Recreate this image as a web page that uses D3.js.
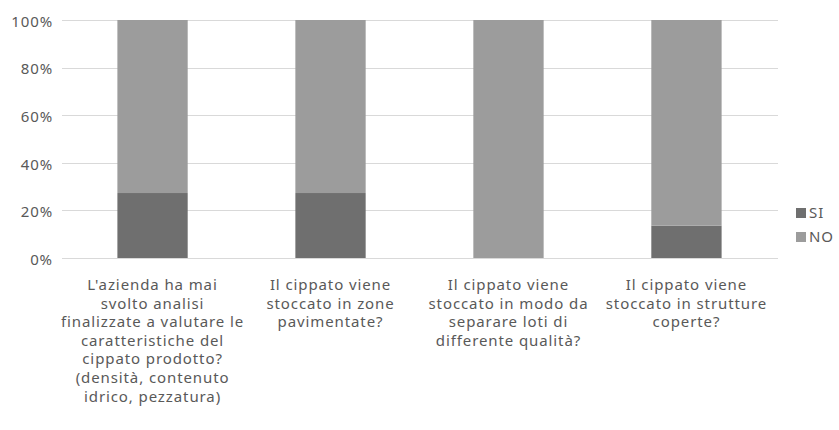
<!DOCTYPE html>
<html>
<head>
<style>
body {margin: 0; background: #fff; font-family: "Noto Sans", Arial;}
</style>
<script src="https://cdnjs.cloudflare.com/ajax/libs/d3/7.8.5/d3.min.js"></script>
</head>
<body>
<div id="chart-container"></div>
<script>
    // data
    const categories = [
        ["L'azienda ha mai", "svolto analisi", "finalizzate a valutare le", "caratteristiche del", "cippato prodotto?", "(densità, contenuto", "idrico, pezzatura)"],
        ["Il cippato viene", "stoccato in zone", "pavimentate?"],
        ["Il cippato viene", "stoccato in modo da", "separare loti di", "differente qualità?"],
        ["Il cippato viene", "stoccato in strutture", "coperte?"]
    ];
    const seriesNames = ["SI", "NO"];
    const siValues = [27.3, 27.3, 0, 13.6];
    const noValues = [72.7, 72.7, 100, 86.4];
    const yTicks = [0, 20, 40, 60, 80, 100];

    const W = 839, H = 430;
    const x0 = 64, x1 = 775, yTop = 20, yBottom = 258;
    const textColor = "#595959";
    const fontSize = "15px";
    const spacing = "0.9px";

    const svg = d3.select("#chart-container")
        .append("svg")
        .attr("width", W)
        .attr("height", H);

    const x = d3.scaleBand()
        .domain(d3.range(categories.length))
        .range([x0, x1])
        .paddingInner(0.605)
        .paddingOuter(0.3);

    const y = d3.scaleLinear()
        .domain([0, 100])
        .range([yBottom, yTop]);

    const color = d3.scaleOrdinal()
        .domain(seriesNames)
        .range(["#6f6f6f", "#9c9c9c"]);

    // gridlines
    svg.append("g")
        .selectAll("line")
        .data(yTicks)
        .join("line")
            .attr("x1", x0 - 2)
            .attr("x2", x1 + 3)
            .attr("y1", d => Math.round(y(d)) + 0.5)
            .attr("y2", d => Math.round(y(d)) + 0.5)
            .attr("stroke", "#d9d9d9")
            .attr("stroke-width", 1);

    // y axis labels
    const yAxis = d3.axisLeft(y)
        .tickValues(yTicks)
        .tickFormat(d => d + "%")
        .tickSize(0)
        .tickPadding(11);
    svg.append("g")
        .attr("transform", `translate(${x0},1.5)`)
        .call(yAxis)
        .call(g => g.select(".domain").remove())
        .selectAll("text")
            .attr("fill", textColor)
            .style("font-size", fontSize)
            .style("letter-spacing", spacing)
            .style("font-family", "'Noto Sans', Arial");

    // stacked bars
    const rows = categories.map((c, i) => ({i: i, SI: siValues[i], NO: noValues[i]}));
    const stacked = d3.stack().keys(seriesNames)(rows);

    svg.append("g")
        .selectAll("g")
        .data(stacked)
        .join("g")
            .attr("fill", d => color(d.key))
        .selectAll("rect")
        .data(d => d)
        .join("rect")
            .attr("x", d => x(d.data.i))
            .attr("width", x.bandwidth())
            .attr("y", d => y(d[1]))
            .attr("height", d => y(d[0]) - y(d[1]));

    // category labels
    const lab = svg.append("g")
        .selectAll("text")
        .data(categories)
        .join("text")
            .attr("x", (d, i) => x(i) + x.bandwidth() / 2)
            .attr("y", 290)
            .attr("text-anchor", "middle")
            .attr("fill", textColor)
            .style("font-size", fontSize)
            .style("letter-spacing", spacing);
    lab.selectAll("tspan")
        .data(d => d)
        .join("tspan")
            .attr("x", function() { return this.parentNode.getAttribute("x"); })
            .attr("dy", (d, j) => j === 0 ? 0 : 18.6)
            .text(d => d);

    // legend
    const legend = svg.append("g")
        .selectAll("g")
        .data(seriesNames)
        .join("g")
            .attr("transform", (d, i) => `translate(796,${208 + i * 24})`);
    legend.append("rect")
        .attr("width", 10)
        .attr("height", 10)
        .attr("fill", d => color(d));
    legend.append("text")
        .attr("x", 13)
        .attr("y", 10)
        .attr("fill", textColor)
        .style("font-size", fontSize)
        .style("letter-spacing", spacing)
        .text(d => d);
</script>
</body>
</html>
